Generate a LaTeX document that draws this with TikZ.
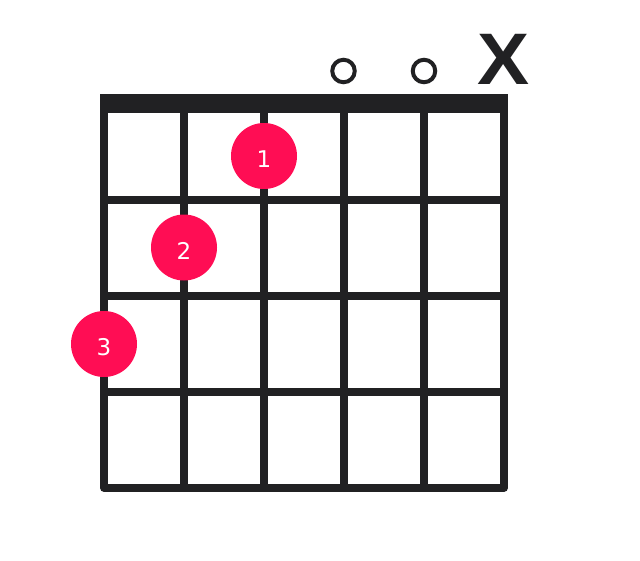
\documentclass[tikz,border=0pt]{standalone}
\usepackage{fontspec}
\setmainfont{DejaVu Sans}
\newfontfamily\xmarkfont[FakeStretch=1.07]{Liberation Sans}
\definecolor{gridcol}{RGB}{33,33,35}
\definecolor{dotcol}{RGB}{255,13,84}
\begin{document}
\begin{tikzpicture}[x=1pt,y=-1pt,
  gridline/.style={draw=gridcol,line width=7.5pt},
  nutbar/.style={fill=gridcol},
  finger/.style={circle,fill=dotcol,minimum size=66pt,inner sep=0pt},
  fingertext/.style={inner sep=0pt,text=white,font=\fontsize{23}{23}\selectfont},
  openmark/.style={circle,draw=gridcol,line width=4pt,minimum size=22.5pt,inner sep=0pt},
  mutemark/.style={inner sep=0pt,text=gridcol,font=\xmarkfont\bfseries\fontsize{73}{73}\selectfont}]
\useasboundingbox[fill=white] (0,0) rectangle (640,560);
% strings
\foreach \i/\x in {1/104,2/184,3/264,4/344,5/424,6/504}{
  \coordinate (s\i t) at (\x,104);
  \coordinate (s\i b) at (\x,488);
}
% frets
\foreach \j/\y in {1/200,2/296,3/392}{
  \coordinate (f\j l) at (104,\y);
  \coordinate (f\j r) at (504,\y);
}
\foreach \i in {2,3,4,5}{ \draw[gridline] (s\i t) -- (s\i b); }
\foreach \j in {1,2,3}{ \draw[gridline] (f\j l) -- (f\j r); }
\draw[gridline,line join=round] (s1t) -- (s1b) -- (s6b) -- (s6t);
% nut
\fill[nutbar] (100,94) rectangle (507.5,113);
% open / muted markers
\node[openmark] (o4) at (343.5,71) {};
\node[openmark] (o5) at (424,71) {};
\node[mutemark,anchor=base] (x6) at (504,84) {X};
% fingers
\node[finger] (d1) at (264,156) {};
\node[finger] (d2) at (184,247.5) {};
\node[finger] (d3) at (104,344) {};
\node[fingertext] (t1) at ([yshift=-3.5pt]d1.center) {1};
\node[fingertext] (t2) at ([yshift=-3.5pt]d2.center) {2};
\node[fingertext] (t3) at ([yshift=-3.5pt]d3.center) {3};
\end{tikzpicture}
\end{document}
